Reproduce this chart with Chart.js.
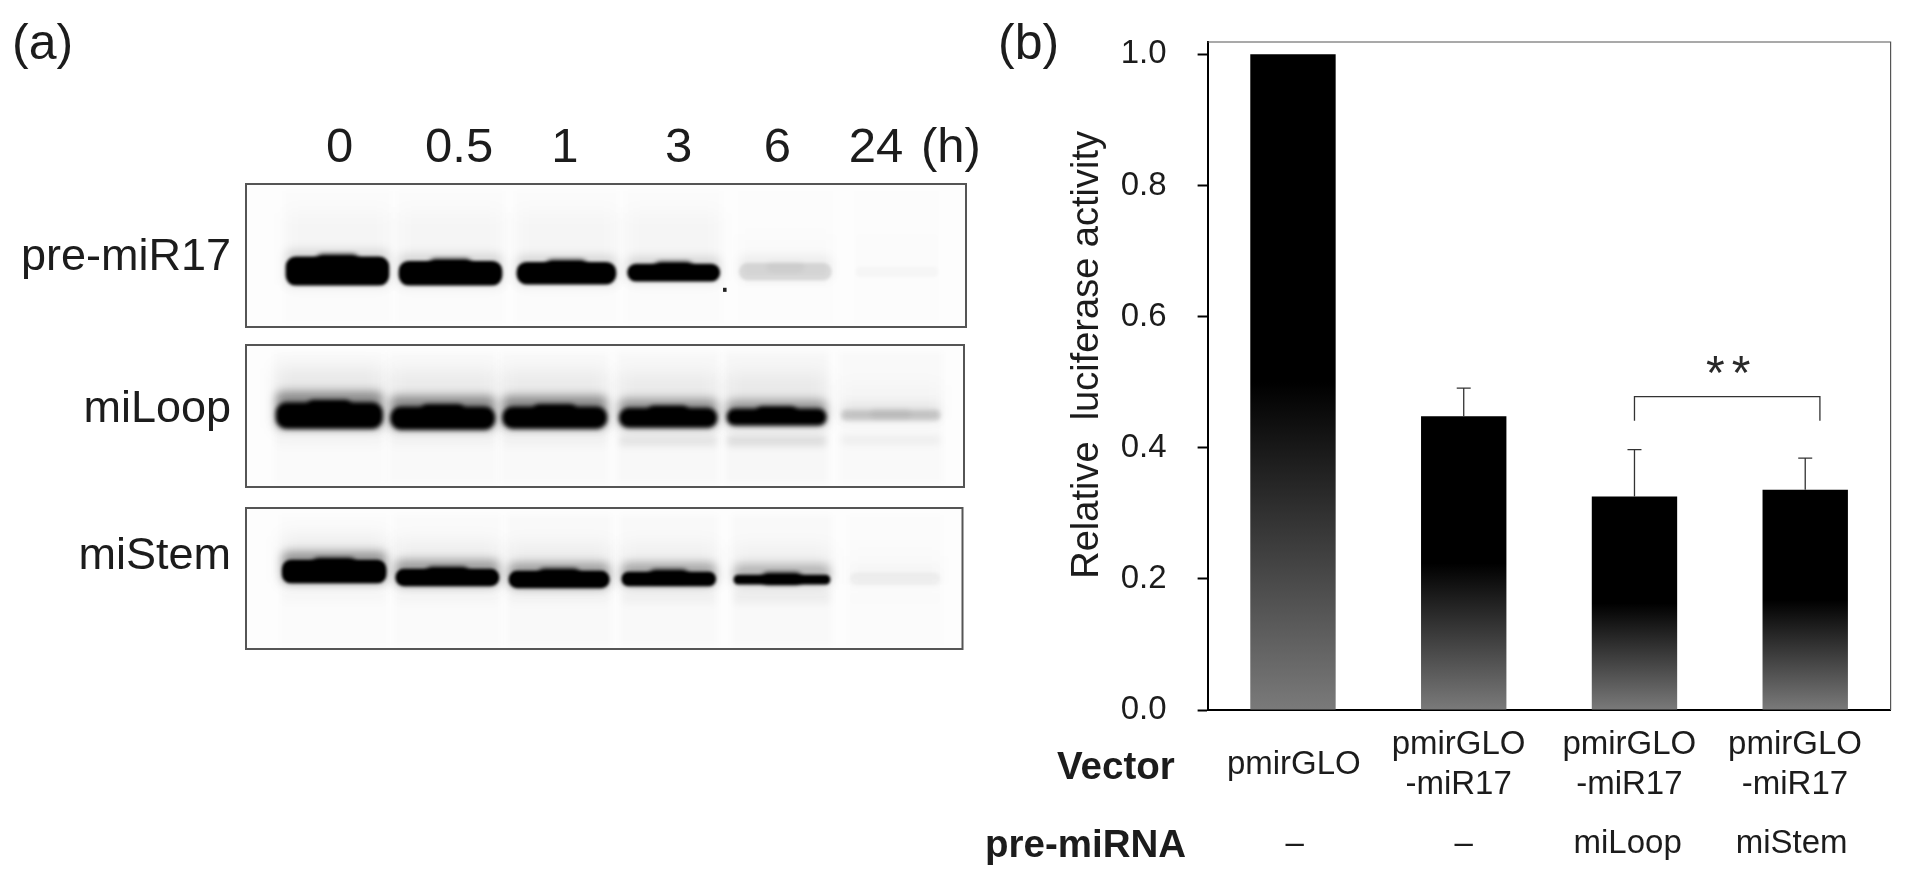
<!DOCTYPE html>
<html><head><meta charset="utf-8">
<script src="https://cdn.jsdelivr.net/npm/chart.js@4/dist/chart.umd.min.js"></script>
<style>
html,body{margin:0;padding:0;background:#fff;width:1907px;height:878px;overflow:hidden;font-family:"Liberation Sans",Arial,sans-serif;color:#1c1c1c}
canvas,.t{position:absolute}
canvas{filter:blur(.5px)}
.t{white-space:nowrap;line-height:1;filter:blur(.3px)}
.row{font-size:45px;text-align:right;width:231px;left:0}
.panel{font-size:50px}
.bold{font-size:38.5px;font-weight:bold}
</style></head><body>
<div class="t panel" style="left:12px;top:17px">(a)</div>
<div class="t panel" style="left:998px;top:17px">(b)</div>
<div class="t row" style="top:232px">pre-miR17</div>
<div class="t row" style="top:384px">miLoop</div>
<div class="t row" style="top:531px">miStem</div>
<div class="t bold" style="left:1057px;top:747px">Vector</div>
<div class="t bold" style="left:985px;top:825px">pre-miRNA</div>
<canvas id="gel1" style="left:226px;top:100px" width="760" height="237"></canvas>
<canvas id="gel2" style="left:226px;top:335px" width="760" height="162"></canvas>
<canvas id="gel3" style="left:226px;top:498px" width="760" height="161"></canvas>
<canvas id="bars" style="left:980px;top:0" width="927" height="878"></canvas>
<script>
// ---- panel (b) data ----
const categories = ['pmirGLO','pmirGLO-miR17','pmirGLO-miR17 + miLoop','pmirGLO-miR17 + miStem'];
const activity = [1.0, 0.448, 0.3255, 0.336];
const errorTop = [null, 0.491, 0.397, 0.384];
const vectorLabels = [['pmirGLO'],['pmirGLO','-miR17'],['pmirGLO','-miR17'],['pmirGLO','-miR17']];
const vectorTickAt = [0.505, 1.47, 2.47, 3.44];
const preMirnaLabels = ['–','–','miLoop','miStem'];
const preMirnaTickAt = [0.51, 1.5, 2.46, 3.42];
const bracketFrom = 2.5, bracketTo = 3.586, bracketTop = 0.478, bracketFoot = 0.441;
const significance = '**';

// ---- panel (a) data: time points, band position, extent and intensity per lane ----
const lanes = ['0','0.5','1','3','6','24'];
const laneTickAt = [13, 29.6, 44.3, 60.1, 73.8, 87.5, 97.9];
const gel1Lane = [12.7,28.4,44.5,59.4,74.9,90.4];
const gel1Span = [14.3,14.3,13.75,12.8,12.8,11.4];
const gel1Top = [50.9,54,54.7,56,55.4,58];
const gel1Bottom = [70.8,70.8,70,68,67.3,65];
const gel1Intensity = [1,1,1,1,0.1,0.018];
const gel1Crest = [1,1,1,1,0.03,0];
const gel1ShoulderTop = [46,49,50,51,50,55];
const gel1Shoulder = [0.12,0.12,0.12,0.12,0.05,0];
const gel1HazeTop = [20,20,20,20,35,35];
const gel1Haze = [0.022,0.022,0.022,0.022,0.006,0.003];
const gel1Speck = [66.5, 0.4, 72.8, 75.2];
const gel1Tint = [0.006,0.006,0.006,0.006,0.003,0.002];
const gel2Lane = [11.6,27.4,43,58.8,73.9,89.8];
const gel2Span = [14.8,14.5,14.5,13.6,13.8,13.8];
const gel2Top = [40.5,43.5,43.5,44.5,45,46];
const gel2Bottom = [58.7,59.4,58.7,58,56.5,53];
const gel2Intensity = [1,1,1,1,1,0.15];
const gel2Crest = [1,1,1,1,1,0.04];
const gel2ShoulderTop = [33,36,36,38,39,41];
const gel2Shoulder = [0.4,0.4,0.4,0.36,0.34,0.06];
const gel2HazeTop = [16,18,18,20,20,28];
const gel2Haze = [0.07,0.06,0.06,0.055,0.055,0.02];
const gel2LowerTop = [62,62,62,64,64,64];
const gel2LowerBottom = [72,72,72,71,71,70];
const gel2Lower = [0.015,0.02,0.025,0.08,0.1,0.045];
const gel2Tint = [0.012,0.016,0.016,0.02,0.022,0.014];
const gel3Lane = [12.3,28.1,43.7,59,74.8,90.6];
const gel3Span = [14.5,14.4,14,13.1,13.4,12.6];
const gel3Top = [37,43.3,44.7,45.4,47.5,46];
const gel3Bottom = [53.2,55.3,56.7,55.3,54,54.6];
const gel3Intensity = [1,1,1,1,1,0.035];
const gel3Crest = [1,1,1,1,1,0];
const gel3ShoulderTop = [31,37,39,39,40,42];
const gel3Shoulder = [0.36,0.33,0.33,0.3,0.24,0.01];
const gel3HazeTop = [20,24,26,26,28,34];
const gel3Haze = [0.06,0.05,0.05,0.04,0.04,0.01];
const gel3LowerTop = [58,60,60,60,58,60];
const gel3LowerBottom = [68,68,68,68,68,68];
const gel3Lower = [0.012,0.015,0.02,0.03,0.045,0.005];
const gel3Tint = [0.008,0.012,0.014,0.014,0.016,0.006];
const laneTintTop = [5,5,5,5,5,5];
const laneTintBottom = [97,97,97,97,97,97];

Chart.defaults.font.family = '"Liberation Sans", Arial, sans-serif';
Chart.defaults.color = '#1c1c1c';
Chart.defaults.animation = false;

// ---- gel drawing ----
const bandBlur = {
  id:'bandBlur',
  beforeDatasetDraw(chart,args){ chart.ctx.save(); chart.ctx.filter = 'blur('+chart.data.datasets[args.index].blurPx+'px)'; },
  afterDatasetDraw(chart){ chart.ctx.restore(); }
};
const gelFrame = {
  id:'gelFrame',
  beforeDraw(chart){ const a=chart.chartArea,c=chart.ctx; c.save(); c.fillStyle='#fdfdfd'; c.fillRect(a.left,a.top,a.width,a.height); c.restore(); },
  afterDraw(chart){ const a=chart.chartArea,c=chart.ctx; c.save(); c.strokeStyle='#555'; c.lineWidth=2; c.strokeRect(a.left,a.top,a.width,a.height); c.restore(); }
};
function layer(center,span,top,bottom,intensity,gelWidth,blurPx,radius){
  return center.map((c,i)=>({
    label:lanes[i],
    data:[{x:c,y:[top[i],bottom[i]]}],
    barThickness:span[i]/100*gelWidth,
    backgroundColor:'rgba(0,0,0,'+intensity[i]+')',
    borderRadius:radius,
    borderSkipped:false,
    grouped:false,
    blurPx
  }));
}
function gel(id,datasets,withAxis,padTop,padRight){
  const x = {type:'linear',min:0,max:100,display:false,offset:false};
  if(withAxis){
    Object.assign(x,{
      display:true,position:'top',
      grid:{display:false,drawTicks:false,offset:false},border:{display:false},
      afterBuildTicks(s){ s.ticks = laneTickAt.map(v=>({value:v})); },
      afterFit(s){ s.height = 84; s.paddingLeft=0; s.paddingRight=0; },
      ticks:{autoSkip:false,maxRotation:0,padding:6,font:{size:49},color:'#1c1c1c',
        callback(v,i){ return i<lanes.length ? lanes[i] : '(h)'; }}
    });
  }
  return new Chart(document.getElementById(id),{
    type:'bar',
    data:{datasets},
    options:{
      responsive:false,devicePixelRatio:1,animation:false,
      layout:{padding:{left:20,right:padRight,top:padTop,bottom:10}},
      plugins:{legend:{display:false},tooltip:{enabled:false}},
      scales:{x,y:{type:'linear',min:0,max:100,reverse:true,display:false}}
    },
    plugins:[bandBlur,gelFrame]
  });
}
function gelLayers(c,s,w,tint,hazeTop,haze,shTop,sh,t,b,inten,crest,coreBlur,radius){
  const crestSpan = s.map(v=>v*0.4);
  const crestTop = t.map(v=>v-1.3);
  const crestBottom = t.map(v=>v+6);
  return [
    ...layer(c,s.map(v=>v*1.04),laneTintTop,laneTintBottom,tint,w,3,0),
    ...layer(c,s,hazeTop,b,haze,w,9,4),
    ...layer(c,s,shTop,b,sh,w,5,6),
    ...layer(c,s,t,b,inten,w,coreBlur,radius),
    ...layer(c,crestSpan,crestTop,crestBottom,crest,w,coreBlur+0.8,8)
  ];
}
gel('gel1',[
  ...gelLayers(gel1Lane,gel1Span,720,gel1Tint,gel1HazeTop,gel1Haze,gel1ShoulderTop,gel1Shoulder,gel1Top,gel1Bottom,gel1Intensity,gel1Crest,1.6,10),
  {label:'speck',data:[{x:gel1Speck[0],y:[gel1Speck[2],gel1Speck[3]]}],barThickness:gel1Speck[1]/100*720,backgroundColor:'#222',grouped:false,blurPx:0.4}
],true,0,20);
gel('gel2',[
  ...layer(gel2Lane,gel2Span,gel2LowerTop,gel2LowerBottom,gel2Lower,718,3.5,4),
  ...gelLayers(gel2Lane,gel2Span,718,gel2Tint,gel2HazeTop,gel2Haze,gel2ShoulderTop,gel2Shoulder,gel2Top,gel2Bottom,gel2Intensity,gel2Crest,2,11)
],false,10,22);
gel('gel3',[
  ...layer(gel3Lane,gel3Span,gel3LowerTop,gel3LowerBottom,gel3Lower,716.5,3.5,4),
  ...gelLayers(gel3Lane,gel3Span,716.5,gel3Tint,gel3HazeTop,gel3Haze,gel3ShoulderTop,gel3Shoulder,gel3Top,gel3Bottom,gel3Intensity,gel3Crest,1.8,9)
],false,10,23.5);

// ---- bar chart ----
const annotations = {
  id:'annotations',
  afterDatasetsDraw(chart){
    const c=chart.ctx,y=chart.scales.y,xb=chart.scales.x,xv=chart.scales.xVector;
    c.save();
    c.strokeStyle='#333'; c.lineWidth=1.3;
    errorTop.forEach((e,i)=>{
      if(e===null) return;
      const px=xb.getPixelForValue(i),t=y.getPixelForValue(e),b=y.getPixelForValue(activity[i]);
      c.beginPath(); c.moveTo(px,b); c.lineTo(px,t); c.moveTo(px-7,t); c.lineTo(px+7,t); c.stroke();
    });
    const l=xv.getPixelForValue(bracketFrom),r=xv.getPixelForValue(bracketTo),t=y.getPixelForValue(bracketTop),f=y.getPixelForValue(bracketFoot);
    c.beginPath(); c.moveTo(l,f); c.lineTo(l,t); c.lineTo(r,t); c.lineTo(r,f); c.stroke();
    c.fillStyle='#2a2a2a'; c.font='48px "Liberation Sans"'; c.textAlign='center'; c.textBaseline='alphabetic';
    c.letterSpacing='7px';
    c.fillText(significance,xv.getPixelForValue(3.07),y.getPixelForValue(0.489));
    c.restore();
  },
  afterDraw(chart){
    const a=chart.chartArea,c=chart.ctx;
    c.save(); c.strokeStyle='#555'; c.lineWidth=1.2;
    c.beginPath(); c.moveTo(a.left,a.top); c.lineTo(a.right,a.top); c.lineTo(a.right,a.bottom); c.stroke(); c.restore();
  }
};
function barFill(ctx){
  const chart=ctx.chart;
  if(!chart.chartArea||ctx.dataIndex===undefined) return '#000';
  const y=chart.scales.y,t=y.getPixelForValue(activity[ctx.dataIndex]),b=y.getPixelForValue(0);
  const g=chart.ctx.createLinearGradient(0,t,0,b);
  g.addColorStop(0,'#000'); g.addColorStop(0.5,'#000'); g.addColorStop(1,'#7a7a7a');
  return g;
}
new Chart(document.getElementById('bars'),{
  type:'bar',
  data:{labels:categories,datasets:[{label:'Relative luciferase activity',data:activity,backgroundColor:barFill,barPercentage:0.5,categoryPercentage:1,xAxisID:'x',yAxisID:'y'}]},
  options:{
    responsive:false,devicePixelRatio:1,animation:false,
    layout:{padding:{top:42,right:16.4,left:0,bottom:0}},
    plugins:{legend:{display:false},tooltip:{enabled:false}},
    scales:{
      x:{type:'category',position:'bottom',weight:0,offset:true,
        grid:{display:false,drawTicks:false},border:{color:'#000',width:2},ticks:{display:false},afterFit(s){s.height=0;}},
      xVector:{type:'linear',axis:'x',position:'bottom',weight:1,min:0,max:4,offset:false,
        grid:{display:false,drawTicks:false,offset:false},border:{display:false},
        afterBuildTicks(s){ s.ticks=vectorTickAt.map(v=>({value:v})); },
        afterFit(s){s.height=110;},
        ticks:{autoSkip:false,maxRotation:0,padding:35,crossAlign:'center',font:{size:33,lineHeight:1.22},
          callback(v,i){ return vectorLabels[i]; }}},
      xMirna:{type:'linear',axis:'x',position:'bottom',weight:2,min:0,max:4,offset:false,
        grid:{display:false,drawTicks:false,offset:false},border:{display:false},
        afterBuildTicks(s){ s.ticks=preMirnaTickAt.map(v=>({value:v})); },
        afterFit(s){s.height=58;},
        ticks:{autoSkip:false,maxRotation:0,padding:4,font:{size:33,lineHeight:1.18},
          callback(v,i){ return preMirnaLabels[i]; }}},
      y:{min:0,max:1.0188,position:'left',
        grid:{display:true,drawOnChartArea:false,drawTicks:true,tickLength:10,tickColor:'#000',tickWidth:2},
        border:{color:'#000',width:2},
        afterFit(s){s.width=227.6;s.paddingTop=0;s.paddingBottom=0;},
        title:{display:true,text:'    Relative  luciferase activity',font:{size:38},padding:{top:85,bottom:0}},
        ticks:{stepSize:0.2,includeBounds:false,padding:31,font:{size:33},callback(v){return v.toFixed(1);}}}
    }
  },
  plugins:[annotations]
});
</script>
</body></html>
